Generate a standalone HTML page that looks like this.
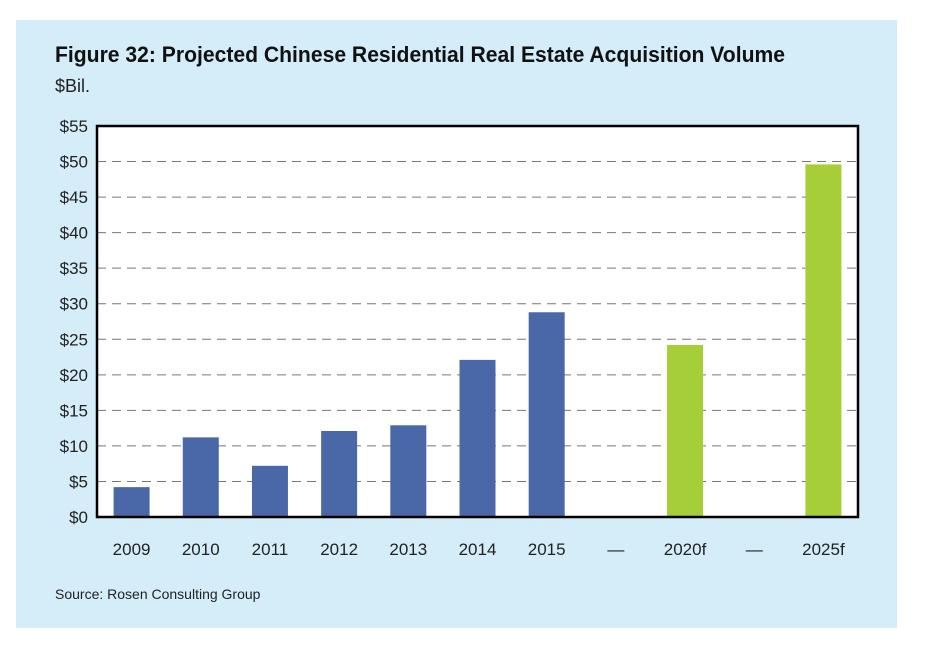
<!DOCTYPE html>
<html><head><meta charset="utf-8"><style>
body{margin:0;background:#fff;width:925px;height:654px;overflow:hidden}
svg{display:block;font-family:"Liberation Sans",sans-serif}
</style></head><body>
<svg width="925" height="654">
<rect x="16" y="20" width="881" height="608" fill="#d4edf9"/>
<text x="55" y="62" font-size="22" font-weight="bold" textLength="730" lengthAdjust="spacingAndGlyphs" fill="#111">Figure 32: Projected Chinese Residential Real Estate Acquisition Volume</text>
<text x="55" y="92" font-size="18" fill="#222">$Bil.</text>
<rect x="97" y="126" width="761" height="391" fill="#fff"/>
<g id="grid"></g>
<g id="bars"></g>
<rect x="97" y="126" width="761" height="391" fill="none" stroke="#000" stroke-width="2.5"/>
<g id="labels"></g>
<text x="55" y="599" font-size="14" fill="#222">Source: Rosen Consulting Group</text>
</svg>
<script>
const categories=["2009","2010","2011","2012","2013","2014","2015","—","2020f","—","2025f"];
const values=[4.2,11.2,7.2,12.1,12.9,22.1,28.8,null,24.2,null,49.6];
const forecast=[false,false,false,false,false,false,false,false,true,false,true];
const yTicks=[0,5,10,15,20,25,30,35,40,45,50,55];
const ns="http://www.w3.org/2000/svg";
const X0=97,W=761,Y0=517,H=391,YMAX=55;
const y=v=>Y0-v/YMAX*H;
const slot=W/categories.length;
const xc=i=>X0+slot*(i+0.5);
const grid=document.getElementById('grid'),bars=document.getElementById('bars'),labels=document.getElementById('labels');
function mk(tag,attrs,parent){const e=document.createElementNS(ns,tag);for(const k in attrs)e.setAttribute(k,attrs[k]);parent.appendChild(e);return e;}
yTicks.forEach(t=>{
  if(t>0&&t<YMAX){const l=mk('line',{x1:X0,x2:X0+W,y1:y(t),y2:y(t),stroke:'#777','stroke-width':1,'stroke-dasharray':'9,6'},grid);
  
  }
  const tx=mk('text',{x:88,y:y(t)+6,'font-size':17,'text-anchor':'end',fill:'#222'},labels);
  tx.textContent='$'+t;
  
  
});
categories.forEach((c,i)=>{
  if(values[i]!==null){
    const r=mk('rect',{x:xc(i)-18,y:y(values[i]),width:36,height:Y0-y(values[i]),fill:forecast[i]?'#a6ce39':'#4a67a8'},bars);
    
    
  }
  const tx=mk('text',{x:xc(i),y:555,'font-size':17,'text-anchor':'middle',fill:'#222'},labels);
  tx.textContent=c;
  
  
});
</script>
</body></html>
